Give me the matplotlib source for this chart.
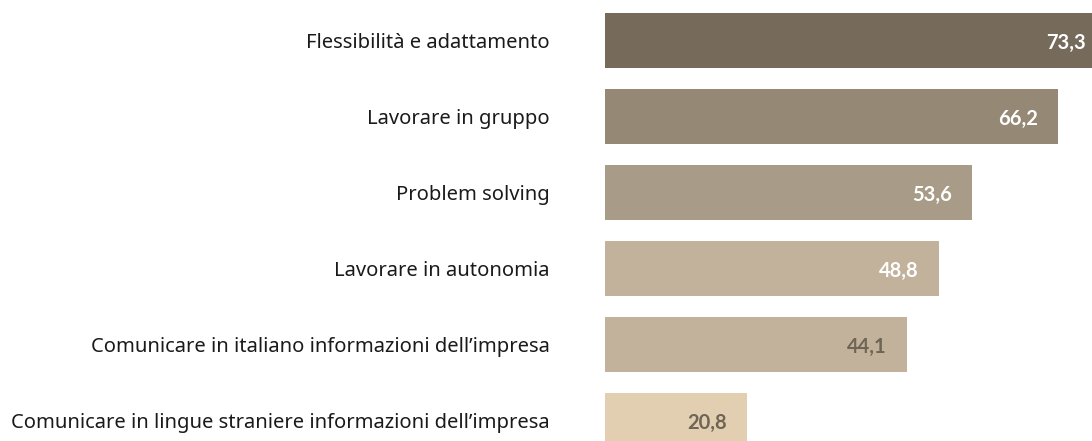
import matplotlib.pyplot as plt

categories = [
    'Flessibilità e adattamento',
    'Lavorare in gruppo',
    'Problem solving',
    'Lavorare in autonomia',
    "Comunicare in italiano informazioni dell\u2019impresa",
    "Comunicare in lingue straniere informazioni dell\u2019impresa",
]
values = [73.3, 66.2, 53.6, 48.8, 44.1, 20.8]
bar_colors = ['#766a5a', '#958875', '#a89b87', '#c2b29c', '#c2b29c', '#e2cfb1']
label_colors = ['white', 'white', 'white', 'white', '#6f6555', '#6f6555']

plt.rcParams['font.family'] = ['Noto Sans', 'DejaVu Sans']

fig = plt.figure(figsize=(10.92, 4.41), dpi=100)
ax = fig.add_axes([0, 0, 1, 1])
ypos = list(range(len(values)))
ax.barh(ypos, values, height=0.72, color=bar_colors)

px = 6.84  # pixels per unit
for i, (cat, v) in enumerate(zip(categories, values)):
    ax.text(-55 / px, i, cat, ha='right', va='center_baseline', fontsize=14.5, color='#1a1a1a')
    ax.text(v - 20 / px, i, f'{v:.1f}'.replace('.', ','), ha='right', va='center_baseline',
            fontsize=14.5, fontweight='bold', family=['Lato', 'DejaVu Sans'],
            color=label_colors[i])

ax.set_xlim(-605 / px, (1092 - 605) / px)
ax.set_ylim((441 - 40.5) / 76, -40.5 / 76)
ax.axis('off')

fig.savefig('out.png', dpi=100)
